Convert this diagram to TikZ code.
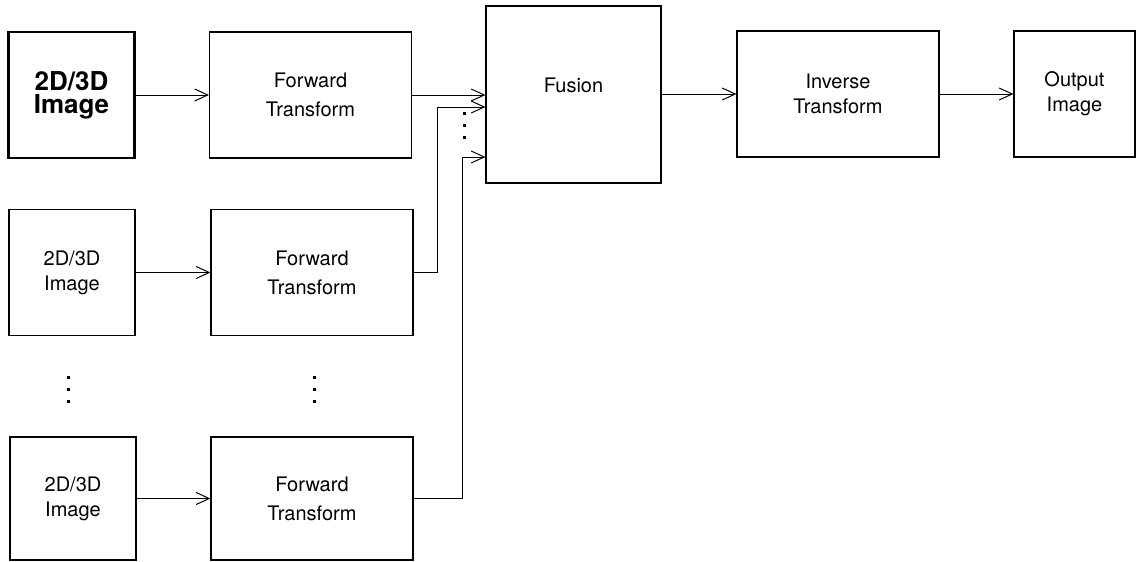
\documentclass[tikz,border=0pt]{standalone}
\usepackage{fontspec}
\setmainfont{TeX Gyre Heros}
\usetikzlibrary{positioning}
\usetikzlibrary{arrows.meta}

\tikzset{
 blk/.style={draw,line width=0.6pt,align=center,inner sep=0pt,font=\fontsize{10}{12.5}\selectfont},
 imgblk/.style={blk,minimum width=63pt,minimum height=63pt},
 fwdblk/.style={blk,minimum width=101pt,minimum height=63pt,font=\fontsize{10}{14.5}\selectfont},
 arr/.style={-{Straight Barb[length=6.5pt,width=6pt]},line width=0.5pt}
}

\begin{document}
\begin{tikzpicture}[x=0.5pt,y=-0.5pt]
 \useasboundingbox (0,0) rectangle (1137,562);
 \node[imgblk,line width=1.2pt,font=\bfseries\fontsize{13}{11.5}\selectfont] (img1) at (71.5,95) {2D/3D\\Image};
 \node[imgblk] (img2) at (72,272.5) {2D/3D\\Image};
 \node[imgblk,minimum height=61.5pt] (img3) at (73,498.5) {2D/3D\\Image};
 \node[fwdblk] (fwd1) at (310.5,95) {Forward\\Transform};
 \node[fwdblk] (fwd2) at (312,272.5) {Forward\\Transform};
 \node[fwdblk,minimum height=61.5pt] (fwd3) at (312,498.5) {Forward\\Transform};
 \node[blk,minimum width=87.5pt,minimum height=88.5pt] (fusion) at (573.5,94.5) {};
 \node[font=\fontsize{10}{12.5}\selectfont] (fusionlbl) at ([yshift=4.75pt]fusion.center) {Fusion};
 \node[blk,minimum width=101pt,minimum height=63pt] (inv) at (838,94) {Inverse\\Transform};
 \node[blk,minimum width=60.5pt,minimum height=63pt] (out) at (1074.5,94) {Output\\Image};

 \coordinate (in2) at (fusion.west |- 0,107);
 \coordinate (in3) at (fusion.west |- 0,157);

 \draw[arr] (img1) -- (fwd1);
 \draw[arr] (img2) -- (fwd2);
 \draw[arr] (img3) -- (fwd3);
 \draw[arr] (fwd1.east) -- (fusion.west |- fwd1.east);
 \draw[arr] (fwd2.east) -- ++(24,0) |- (in2);
 \draw[arr] (fwd3.east) -- ++(49,0) |- (in3);
 \draw[arr] (fusion.east |- inv.west) -- (inv.west);
 \draw[arr] (inv) -- (out);

 \foreach \y in {113,125,137} \fill (462.5,\y-1.5) rectangle ++(3,3);
 \foreach \x in {68,314}
  \foreach \y in {377,389,401} \fill (\x-1.5,\y-1.5) rectangle ++(3,3);
\end{tikzpicture}
\end{document}
